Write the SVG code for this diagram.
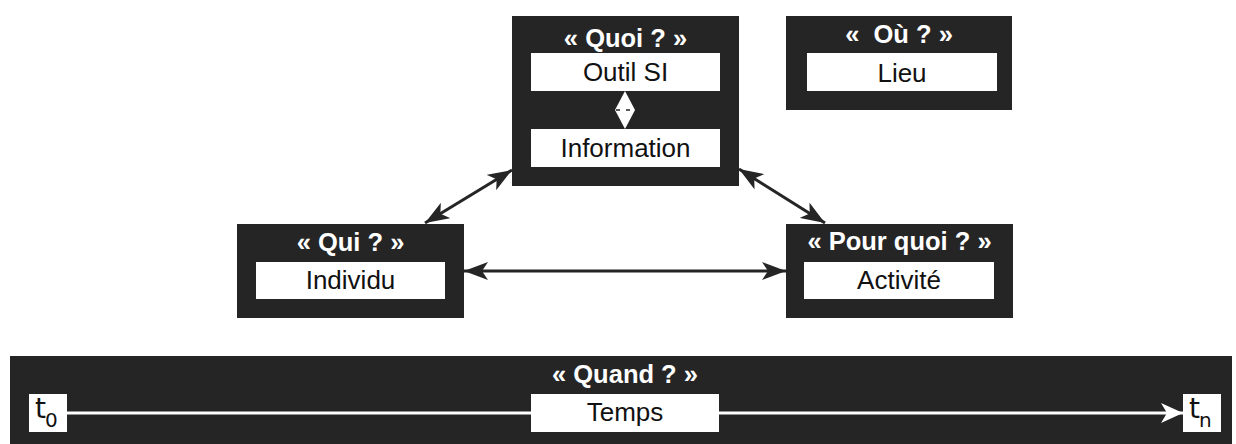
<svg xmlns="http://www.w3.org/2000/svg" width="1236" height="444" viewBox="0 0 1236 444">
<style>
.box{fill:#252525;}
.inner{fill:#ffffff;}
.title{font-family:"Liberation Sans",Arial,sans-serif;font-weight:bold;font-size:25.5px;fill:#ffffff;text-anchor:middle;}
.label{font-family:"Liberation Sans",Arial,sans-serif;font-size:26px;fill:#111111;text-anchor:middle;}
.conn{stroke:#252525;stroke-width:3;fill:none;}
.tl{font-family:"DejaVu Sans",sans-serif;fill:#111111;}
</style>
<defs>
<marker id="arr" viewBox="0 0 24 18" refX="24" refY="9" markerWidth="24" markerHeight="18" markerUnits="userSpaceOnUse" orient="auto-start-reverse">
<path d="M0,0 L24,9 L0,18 L6,9 z" fill="#252525"/>
</marker>
<marker id="warr" viewBox="0 0 22 20" refX="22" refY="10" markerWidth="22" markerHeight="20" markerUnits="userSpaceOnUse" orient="auto">
<path d="M0,0 L22,10 L0,20 L6,10 z" fill="#ffffff"/>
</marker>
</defs>

<g id="connectors">
<line class="conn" x1="425" y1="223" x2="512" y2="170" marker-start="url(#arr)" marker-end="url(#arr)"/>
<line class="conn" x1="739" y1="169" x2="825" y2="223" marker-start="url(#arr)" marker-end="url(#arr)"/>
<line class="conn" x1="464" y1="271" x2="786" y2="271" marker-start="url(#arr)" marker-end="url(#arr)"/>
</g>

<g id="quoi">
<rect class="box" x="512" y="16" width="227" height="170"/>
<text class="title" x="625.5" y="47">« Quoi ? »</text>
<rect class="inner" x="531" y="53" width="189" height="38"/>
<text class="label" x="625.5" y="81">Outil SI</text>
<rect class="inner" x="531" y="129" width="189" height="38"/>
<text class="label" x="625.5" y="157">Information</text>
<g id="quoi-link">
<path d="M625,91 L635,110 L615,110 z" fill="#ffffff"/>
<path d="M625,129 L635,110 L615,110 z" fill="#ffffff"/>
<line x1="616" y1="110" x2="634" y2="110" stroke="#252525" stroke-width="1.5" stroke-dasharray="4,6"/>
</g>
</g>

<g id="ou">
<rect class="box" x="786" y="16" width="226" height="94"/>
<text class="title" x="899" y="43" xml:space="preserve">«  Où ? »</text>
<rect class="inner" x="807" y="53" width="190" height="38"/>
<text class="label" x="902" y="82">Lieu</text>
</g>

<g id="qui">
<rect class="box" x="237" y="224" width="227" height="94"/>
<text class="title" x="350.5" y="251">« Qui ? »</text>
<rect class="inner" x="256" y="262" width="189" height="37"/>
<text class="label" x="350.5" y="289">Individu</text>
</g>

<g id="pourquoi">
<rect class="box" x="786" y="224" width="227" height="94"/>
<text class="title" x="899.5" y="250">« Pour quoi ? »</text>
<rect class="inner" x="804" y="262" width="190" height="37"/>
<text class="label" x="899" y="289">Activité</text>
</g>

<g id="quand">
<rect class="box" x="10" y="356" width="1222" height="88"/>
<text class="title" x="625" y="383">« Quand ? »</text>
<line x1="67" y1="413" x2="531" y2="413" stroke="#ffffff" stroke-width="3"/>
<line x1="719" y1="413" x2="1183" y2="413" stroke="#ffffff" stroke-width="3" marker-end="url(#warr)"/>
<rect class="inner" x="531" y="394" width="188" height="38"/>
<text class="label" x="625" y="421">Temps</text>
<rect class="inner" x="29" y="394" width="38" height="38"/>
<text class="tl" x="35" y="418" font-size="28">t<tspan font-size="20" dx="-1" dy="9">0</tspan></text>
<rect class="inner" x="1183" y="394" width="38" height="38"/>
<text class="tl" x="1189" y="418" font-size="28">t<tspan font-size="20" dx="-1" dy="9">n</tspan></text>
</g>
</svg>
